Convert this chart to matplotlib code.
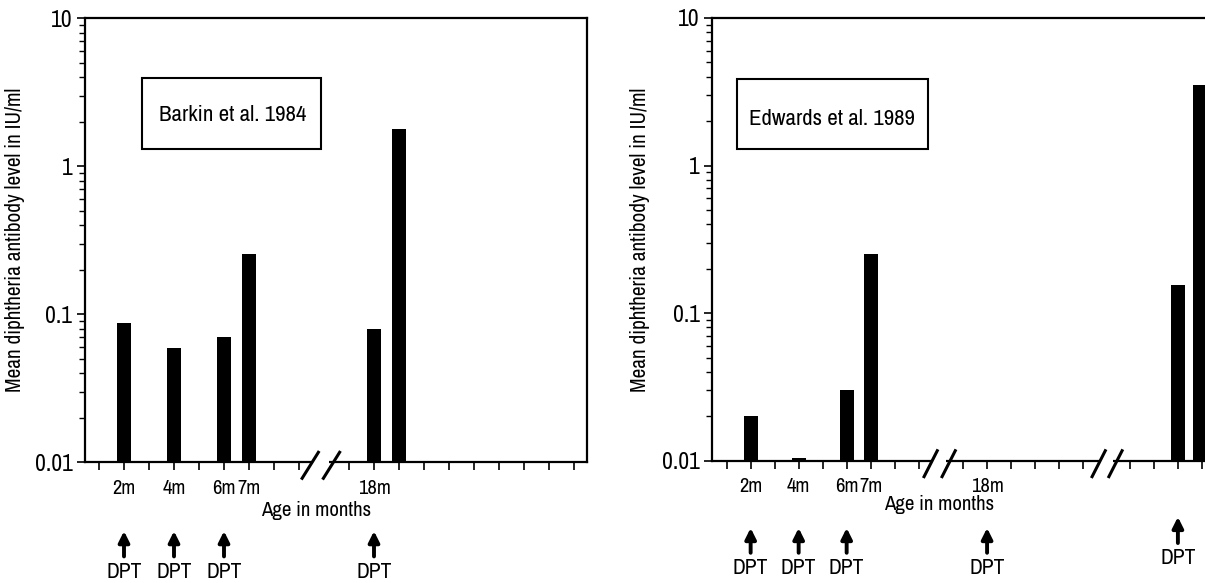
import numpy as np
import matplotlib.pyplot as plt
from matplotlib import font_manager
from matplotlib.patches import Rectangle
from matplotlib.ticker import FixedLocator, LogLocator, NullFormatter

# pick a narrow face if one is installed
names = sorted({f.name for f in font_manager.fontManager.ttflist})
narrow = [n for n in names if 'Narrow' in n or 'Condensed' in n]
plt.rcParams['font.family'] = narrow[:1] + ['Liberation Sans', 'DejaVu Sans']
plt.rcParams['font.stretch'] = 'condensed'

# ---- data ----
# x positions are in "tick slots" along the broken axis
barkin_pos = [1, 3, 5, 6, 11, 12]
barkin_vals = [0.088, 0.0595, 0.070, 0.256, 0.079, 1.80]
barkin_ticks = list(range(0, 9)) + list(range(10, 20))
barkin_labels = {1: '2m', 3: '4m', 5: '6m', 6: '7m', 11: '18m'}
barkin_dpt = [1, 3, 5, 11]

edwards_pos = [1, 3, 5, 6, 18.8, 19.7]
edwards_vals = [0.02, 0.0105, 0.03, 0.25, 0.155, 3.5]
edwards_ticks = list(range(0, 9)) + [9.85, 10.85, 11.85, 12.85, 13.85, 14.85] + [16.8, 17.8, 18.8, 19.8]
edwards_labels = {1: '2m', 3: '4m', 5: '6m', 6: '7m', 10.85: '18m'}
edwards_dpt = [1, 3, 5, 10.85]
edwards_dpt_late = [18.8]

ylab = 'Mean diphtheria antibody level in IU/ml'
W, H = 1205, 583

fig = plt.figure(figsize=(W / 100, H / 100), dpi=100)
ax1 = fig.add_axes([85 / W, (H - 462.3) / H, 502 / W, 444 / H])
ax2 = fig.add_axes([712 / W, (H - 460.7) / H, 506.7 / W, 442.7 / H])


def style_axes(ax, ticks, labels, xlim, right_spine=True):
    ax.set_yscale('log')
    ax.set_ylim(0.01, 10)
    ax.set_xlim(*xlim)
    for s in ['left', 'bottom', 'top', 'right']:
        ax.spines[s].set_linewidth(1.6)
    ax.spines['right'].set_visible(right_spine)
    ax.yaxis.set_major_locator(FixedLocator([0.01, 0.1, 1, 10]))
    ax.set_yticklabels(['0.01', '0.1', '1', '10'])
    ax.yaxis.set_minor_locator(LogLocator(base=10, subs=np.arange(2, 10)))
    ax.yaxis.set_minor_formatter(NullFormatter())
    ax.tick_params(axis='y', which='major', direction='out', length=6, width=1.2,
                   labelsize=17, pad=3)
    ax.tick_params(axis='y', which='minor', direction='out', length=4, width=1.0)
    ax.set_xticks(ticks)
    ax.set_xticklabels([labels.get(t, '') for t in ticks])
    ax.tick_params(axis='x', direction='out', length=6, width=1.2, labelsize=14.8, pad=6)
    ax.set_ylabel(ylab, fontsize=15.3)


def add_break(ax, x1, x2, slant):
    tr = ax.get_xaxis_transform()
    dy_lo, dy_hi = -16 / 444, 10 / 444
    ax.plot([x1 + 0.1, x2 - 0.1], [0, 0], color='white', lw=4, transform=tr,
            clip_on=False, zorder=5, solid_capstyle='butt')
    for xs in (x1, x2):
        ax.plot([xs - slant / 2, xs + slant / 2], [dy_lo, dy_hi], color='k', lw=2.2,
                transform=tr, clip_on=False, zorder=6)


def add_dpt(ax, xs, top, tail, txt_y):
    tr = ax.get_xaxis_transform()
    for x in xs:
        ax.annotate('', xy=(x, top), xytext=(x, tail), xycoords=tr, textcoords=tr,
                    arrowprops=dict(arrowstyle='-|>', lw=2.8, color='k',
                                    mutation_scale=16, shrinkA=0, shrinkB=0),
                    annotation_clip=False)
        ax.text(x, txt_y, 'DPT', transform=tr, ha='center', va='center', fontsize=15.5)


# ---- left panel: Barkin ----
ax1.bar(barkin_pos, np.array(barkin_vals) - 0.01, bottom=0.01, width=0.56,
        color='black', zorder=3)
style_axes(ax1, barkin_ticks, barkin_labels, (-0.56, 19.52))
ax1.yaxis.set_label_coords(-0.12, 0.5)
add_break(ax1, 8.45, 9.3, 0.65)
ax1.text(0.46, -0.108, 'Age in months', transform=ax1.transAxes, ha='center',
         va='center', fontsize=15)
ax1.add_patch(Rectangle((0.113, 0.7056), 0.357, 0.16, transform=ax1.transAxes,
                        fill=False, lw=1.5, color='k'))
ax1.text(0.295, 0.782, 'Barkin et al. 1984', transform=ax1.transAxes, ha='center',
         va='center', fontsize=16.5)
add_dpt(ax1, barkin_dpt, -0.155, -0.212, -0.246)

# ---- right panel: Edwards ----
ax2.bar(edwards_pos, np.array(edwards_vals) - 0.01, bottom=0.01, width=0.58,
        color='black', zorder=3)
style_axes(ax2, edwards_ticks, edwards_labels, (-0.61, 20.5), right_spine=False)
ax2.yaxis.set_label_coords(-0.122, 0.5)
add_break(ax2, 8.5, 9.25, 0.55)
add_break(ax2, 15.5, 16.2, 0.55)
ax2.text(0.449, -0.1, 'Age in months', transform=ax2.transAxes, ha='center',
         va='center', fontsize=15)
ax2.add_patch(Rectangle((0.049, 0.704), 0.377, 0.158, transform=ax2.transAxes,
                        fill=False, lw=1.5, color='k'))
ax2.text(0.236, 0.772, 'Edwards et al. 1989', transform=ax2.transAxes, ha='center',
         va='center', fontsize=16.5)
add_dpt(ax2, edwards_dpt, -0.152, -0.208, -0.243)
add_dpt(ax2, edwards_dpt_late, -0.127, -0.186, -0.22)

fig.savefig('out.png', dpi=100)
